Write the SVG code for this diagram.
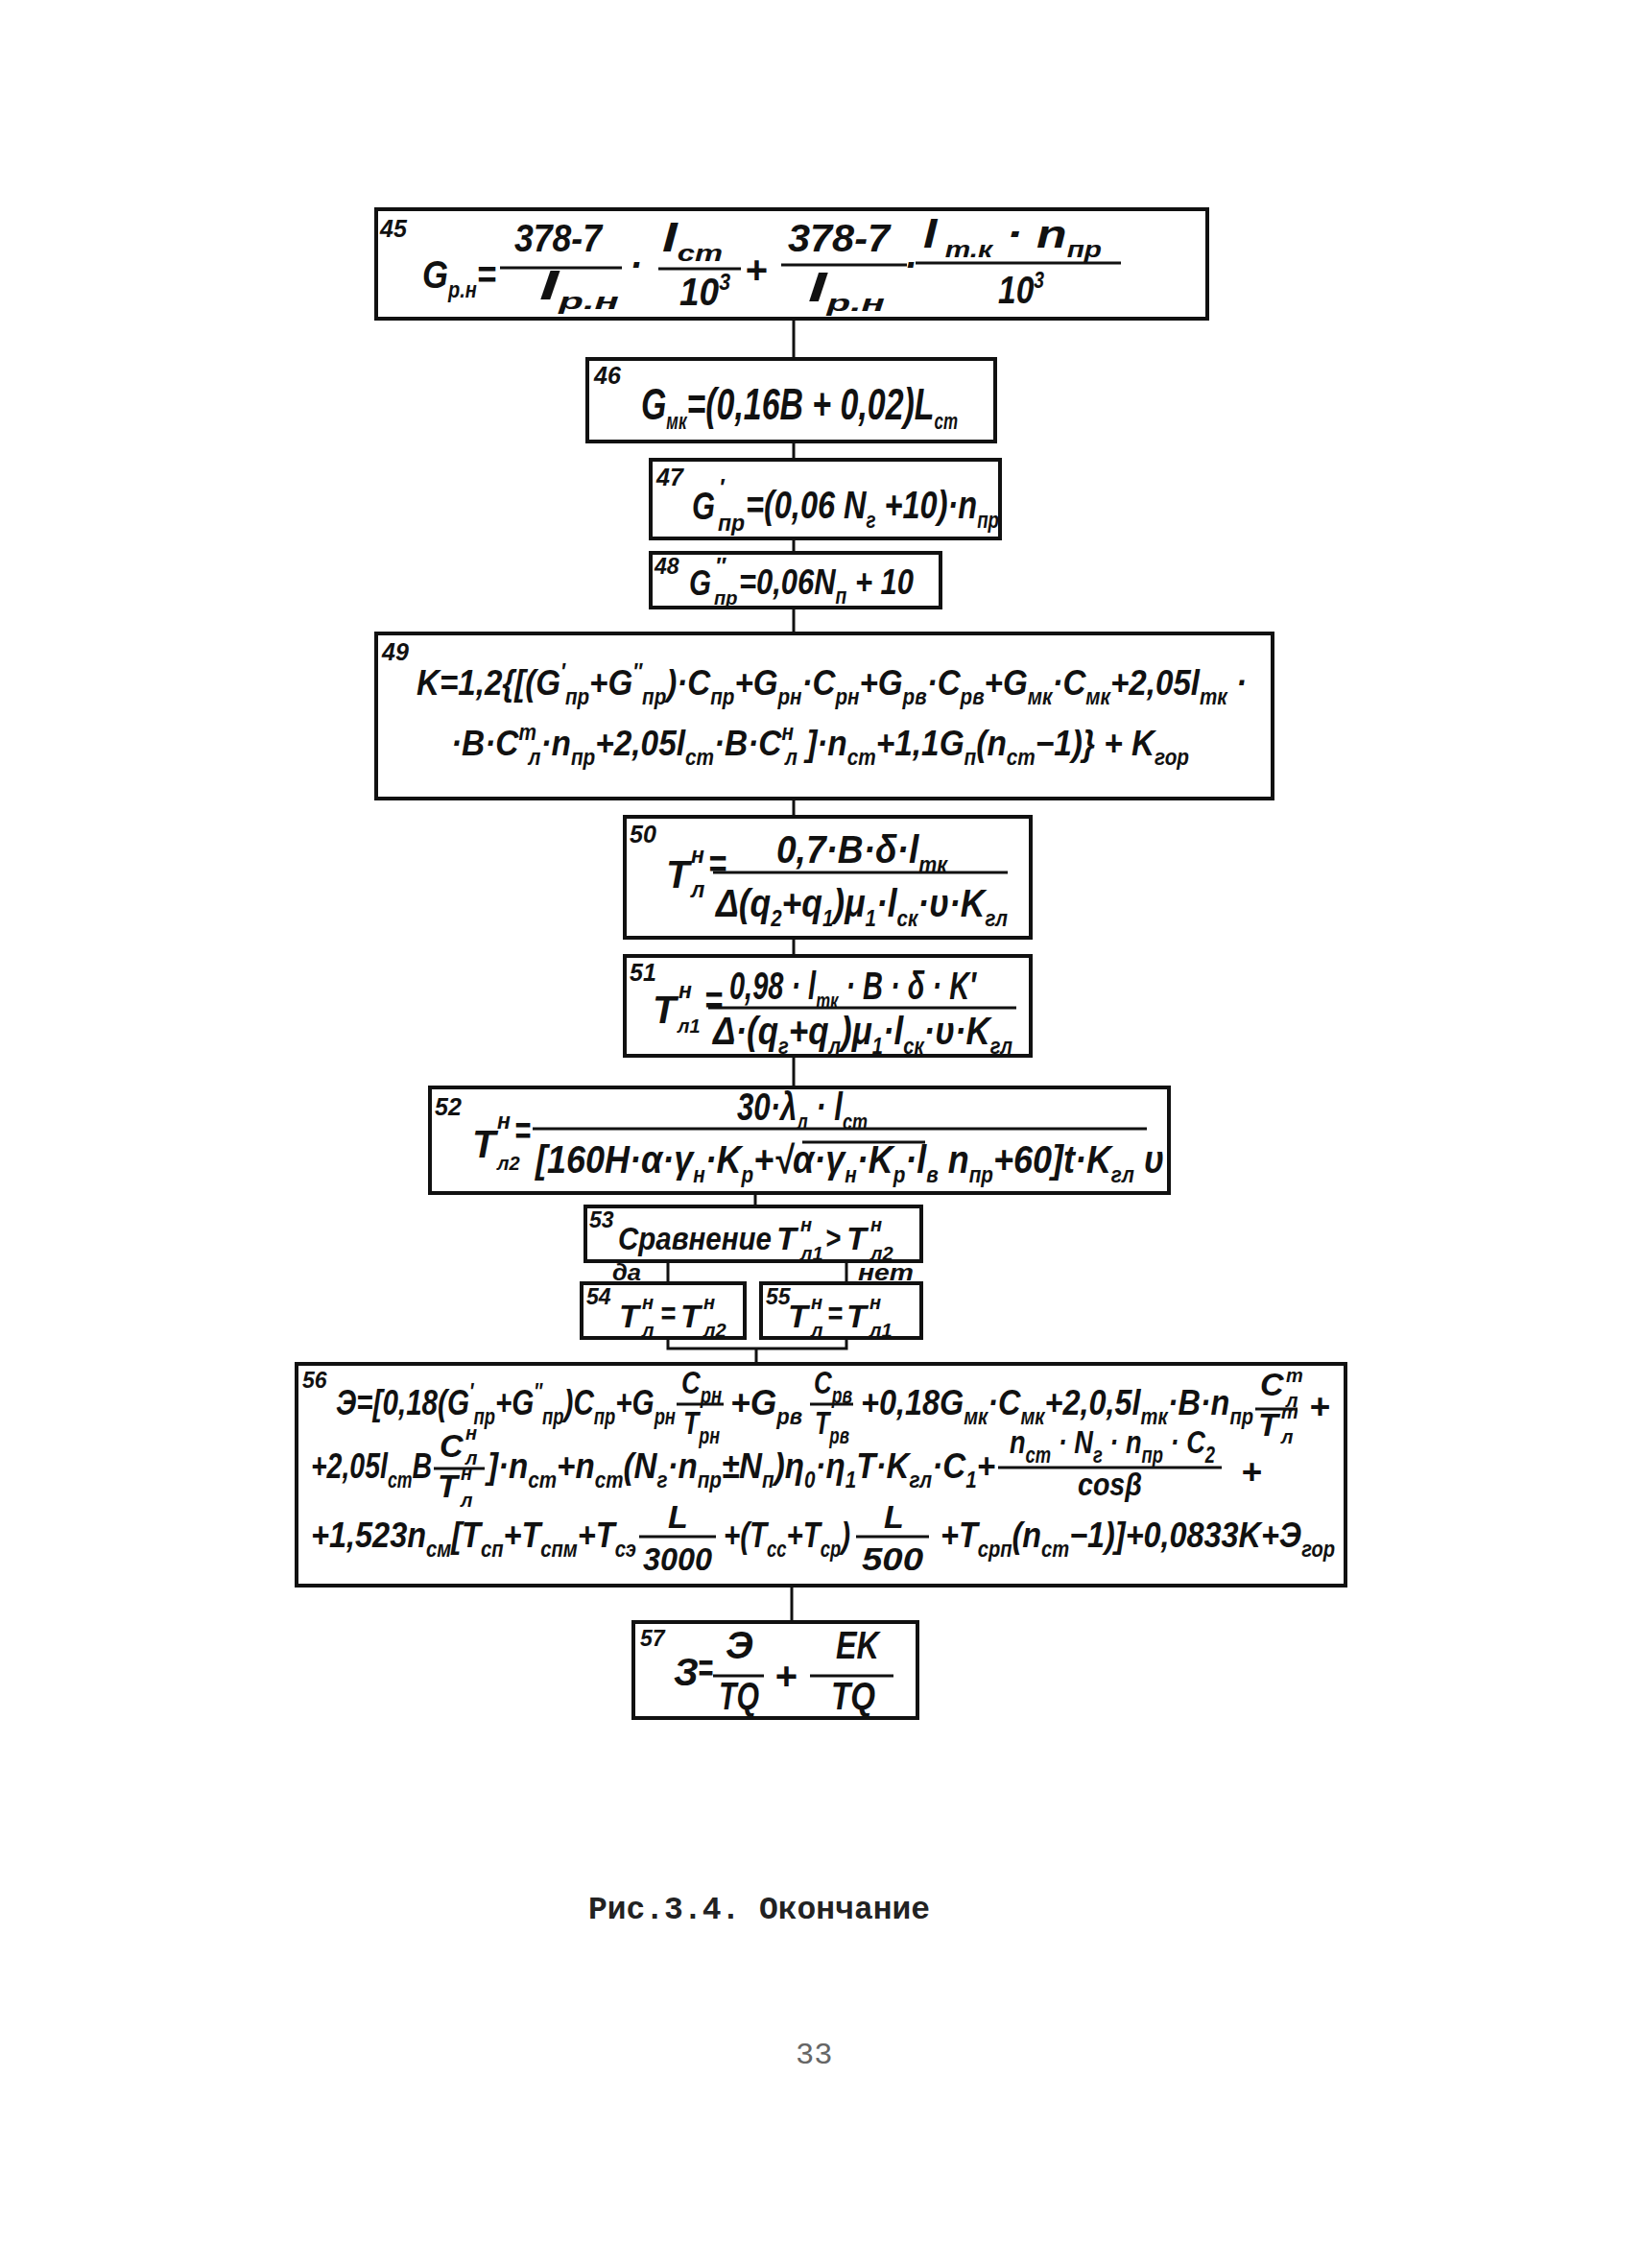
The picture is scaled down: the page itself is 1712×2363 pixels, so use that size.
<svg xmlns="http://www.w3.org/2000/svg" width="1712" height="2363" viewBox="0 0 1712 2363">
<style>
.bg{fill:#fff}
.box{fill:#fff;stroke:#111;stroke-width:4}
.c{fill:none;stroke:#111;stroke-width:3}
.bar{stroke:#111;stroke-width:3}
.t{font-family:"Liberation Sans","DejaVu Sans",Arial,sans-serif;font-style:italic;font-weight:bold;fill:#111}
.m{font-size:40px}
.m2{font-size:46px}
.k{font-size:37px}
.q{font-size:34px}
.l{font-size:25px}
.s{font-size:23px}
.s2{font-size:20px}
.sb{font-size:23px;baseline-shift:-10px}
.sp{font-size:23px;baseline-shift:16px}
.cap{font-family:"Liberation Mono","DejaVu Sans Mono",monospace;font-size:33px;font-weight:bold;fill:#222}
.pg{font-family:"Liberation Mono","DejaVu Sans Mono",monospace;font-size:32px;fill:#666}
</style>
<rect class="bg" x="0" y="0" width="1712" height="2363"/>

<g id="connectors">
<path class="c" d="M827 332V374M827 460V479M827 561V576M827 633V660M827 832V851M827 977V996M827 1100V1133M787 1243V1257M696 1314V1337M882 1314V1337M696 1394V1405H882V1394M788 1405V1421M825 1652V1690"/>
</g>

<g id="n45">
<rect class="box" x="392" y="218" width="866" height="114"/>
<text class="t l" x="396" y="247">45</text>
<text class="t m" x="440" y="300" textLength="77" lengthAdjust="spacingAndGlyphs">G<tspan class="sb">р.н</tspan>=</text>
<text class="t m" x="536" y="262" textLength="91" lengthAdjust="spacingAndGlyphs">378-7</text>
<line class="bar" x1="521" y1="279" x2="648" y2="279"/>
<text class="t m" x="562" y="312" textLength="83" lengthAdjust="spacingAndGlyphs">l<tspan class="sb">р.н</tspan></text>
<text class="t m" x="656" y="290">·</text>
<text class="t m" x="690" y="262" textLength="63" lengthAdjust="spacingAndGlyphs">l<tspan class="sb">ст</tspan></text>
<line class="bar" x1="686" y1="280" x2="772" y2="280"/>
<text class="t m" x="708" y="318" textLength="53" lengthAdjust="spacingAndGlyphs">10<tspan class="sp">3</tspan></text>
<text class="t m" x="776" y="295">+</text>
<text class="t m" x="821" y="262" textLength="106" lengthAdjust="spacingAndGlyphs">378-7</text>
<line class="bar" x1="814" y1="276" x2="945" y2="276"/>
<text class="t m" x="842" y="314" textLength="80" lengthAdjust="spacingAndGlyphs">l<tspan class="sb">р.н</tspan></text>
<text class="t m" x="942" y="290">·</text>
<text class="t m" x="962" y="258" textLength="186" lengthAdjust="spacingAndGlyphs">l<tspan class="sb"> т.к</tspan> · n<tspan class="sb">пр</tspan></text>
<line class="bar" x1="954" y1="274" x2="1168" y2="274"/>
<text class="t m" x="1040" y="316" textLength="48" lengthAdjust="spacingAndGlyphs">10<tspan class="sp">3</tspan></text>
</g>

<g id="n46">
<rect class="box" x="612" y="374" width="425" height="86"/>
<text class="t l" x="619" y="400">46</text>
<text class="t m2" x="668" y="437" textLength="330" lengthAdjust="spacingAndGlyphs">G<tspan class="sb">мк</tspan>=(0,16B + 0,02)L<tspan class="sb">ст</tspan></text>
</g>

<g id="n47">
<rect class="box" x="678" y="479" width="364" height="82"/>
<text class="t l" x="684" y="506">47</text>
<text class="t m" x="721" y="541" textLength="24" lengthAdjust="spacingAndGlyphs">G</text>
<text class="t s" x="749" y="516">′</text>
<text class="t s" x="748" y="553">пр</text>
<text class="t m" x="777" y="540" textLength="264" lengthAdjust="spacingAndGlyphs">=(0,06 N<tspan class="sb">г</tspan> +10)·n<tspan class="sb">пр</tspan></text>
</g>

<g id="n48">
<rect class="box" x="678" y="576" width="302" height="57"/>
<text class="t s" x="682" y="598">48</text>
<text class="t k" x="718" y="620" textLength="23" lengthAdjust="spacingAndGlyphs">G</text>
<text class="t s" x="745" y="598">″</text>
<text class="t s2" x="744" y="630">пр</text>
<text class="t k" x="770" y="619" textLength="182" lengthAdjust="spacingAndGlyphs">=0,06N<tspan class="sb">п</tspan> + 10</text>
</g>

<g id="n49">
<rect class="box" x="392" y="660" width="934" height="172"/>
<text class="t l" x="398" y="688">49</text>
<text class="t k" x="434" y="724" textLength="865" lengthAdjust="spacingAndGlyphs">K=1,2{[(G<tspan class="sp">′</tspan><tspan class="sb">пр</tspan>+G<tspan class="sp">″</tspan><tspan class="sb">пр</tspan>)·C<tspan class="sb">пр</tspan>+G<tspan class="sb">рн</tspan>·C<tspan class="sb">рн</tspan>+G<tspan class="sb">рв</tspan>·C<tspan class="sb">рв</tspan>+G<tspan class="sb">мк</tspan>·C<tspan class="sb">мк</tspan>+2,05l<tspan class="sb">тк</tspan> ·</text>
<text class="t k" x="470" y="787" textLength="769" lengthAdjust="spacingAndGlyphs">·B·C<tspan class="sp">т</tspan><tspan class="sb" dx="-9">л</tspan>·n<tspan class="sb">пр</tspan>+2,05l<tspan class="sb">ст</tspan>·B·C<tspan class="sp">н</tspan><tspan class="sb" dx="-10">л</tspan> ]·n<tspan class="sb">ст</tspan>+1,1G<tspan class="sb">п</tspan>(n<tspan class="sb">ст</tspan>−1)} + K<tspan class="sb">гор</tspan></text>
</g>

<g id="n50">
<rect class="box" x="651" y="851" width="423" height="126"/>
<text class="t l" x="656" y="878">50</text>
<text class="t m" x="694" y="925">T</text>
<text class="t s" x="720" y="899">н</text>
<text class="t s" x="720" y="935">л</text>
<text class="t m" x="738" y="914" textLength="19" lengthAdjust="spacingAndGlyphs">=</text>
<text class="t m" x="809" y="899" textLength="178" lengthAdjust="spacingAndGlyphs">0,7·B·δ·l<tspan class="sb">тк</tspan></text>
<line class="bar" x1="743" y1="909" x2="1050" y2="909"/>
<text class="t m" x="746" y="955" textLength="304" lengthAdjust="spacingAndGlyphs">Δ(q<tspan class="sb">2</tspan>+q<tspan class="sb">1</tspan>)μ<tspan class="sb">1</tspan>·l<tspan class="sb">ск</tspan>·υ·K<tspan class="sb">гл</tspan></text>
</g>

<g id="n51">
<rect class="box" x="651" y="996" width="423" height="104"/>
<text class="t l" x="656" y="1022">51</text>
<text class="t m" x="680" y="1066">T</text>
<text class="t s" x="707" y="1040">н</text>
<text class="t s2" x="706" y="1076">л1</text>
<text class="t m" x="734" y="1056" textLength="19" lengthAdjust="spacingAndGlyphs">=</text>
<text class="t m" x="760" y="1041" textLength="257" lengthAdjust="spacingAndGlyphs">0,98 · l<tspan class="sb">тк</tspan> · B · δ · K′</text>
<line class="bar" x1="738" y1="1050" x2="1059" y2="1050"/>
<text class="t m" x="743" y="1088" textLength="312" lengthAdjust="spacingAndGlyphs">Δ·(q<tspan class="sb">г</tspan>+q<tspan class="sb">л</tspan>)μ<tspan class="sb">1</tspan>·l<tspan class="sb">ск</tspan>·υ·K<tspan class="sb">гл</tspan></text>
</g>

<g id="n52">
<rect class="box" x="448" y="1133" width="770" height="110"/>
<text class="t l" x="453" y="1162">52</text>
<text class="t m" x="492" y="1206">T</text>
<text class="t s" x="518" y="1176">н</text>
<text class="t s2" x="518" y="1219">л2</text>
<text class="t m" x="536" y="1192" textLength="17" lengthAdjust="spacingAndGlyphs">=</text>
<text class="t m" x="768" y="1167" textLength="136" lengthAdjust="spacingAndGlyphs">30·λ<tspan class="sb">л</tspan> · l<tspan class="sb">ст</tspan></text>
<line class="bar" x1="555" y1="1176" x2="1195" y2="1176"/>
<text class="t m" x="558" y="1222" textLength="655" lengthAdjust="spacingAndGlyphs">[160H·α·γ<tspan class="sb">н</tspan>·K<tspan class="sb">р</tspan>+√α·γ<tspan class="sb">н</tspan>·K<tspan class="sb">р</tspan>·l<tspan class="sb">в</tspan> n<tspan class="sb">пр</tspan>+60]t·K<tspan class="sb">гл</tspan> υ</text>
<line class="bar" x1="836" y1="1190" x2="964" y2="1190"/>
</g>

<g id="n53">
<rect class="box" x="610" y="1257" width="350" height="57"/>
<text class="t s" x="614" y="1279">53</text>
<text class="t q" x="644" y="1302" textLength="160" lengthAdjust="spacingAndGlyphs">Сравнение</text>
<text class="t q" x="809" y="1302">T</text>
<text class="t s2" x="834" y="1283">н</text>
<text class="t s2" x="834" y="1313">л1</text>
<text class="t q" x="860" y="1301" textLength="16" lengthAdjust="spacingAndGlyphs">&gt;</text>
<text class="t q" x="882" y="1302">T</text>
<text class="t s2" x="907" y="1283">н</text>
<text class="t s2" x="907" y="1313">л2</text>
<text class="t s" x="638" y="1334" textLength="30" lengthAdjust="spacingAndGlyphs">да</text>
<text class="t s" x="894" y="1334" textLength="58" lengthAdjust="spacingAndGlyphs">нет</text>
</g>

<g id="n54">
<rect class="box" x="606" y="1337" width="170" height="57"/>
<text class="t s" x="611" y="1359">54</text>
<text class="t q" x="645" y="1383">T</text>
<text class="t s2" x="669" y="1364">н</text>
<text class="t s2" x="669" y="1393">л</text>
<text class="t q" x="688" y="1380" textLength="16" lengthAdjust="spacingAndGlyphs">=</text>
<text class="t q" x="709" y="1383">T</text>
<text class="t s2" x="733" y="1364">н</text>
<text class="t s2" x="733" y="1393">л2</text>
</g>

<g id="n55">
<rect class="box" x="793" y="1337" width="167" height="57"/>
<text class="t s" x="798" y="1359">55</text>
<text class="t q" x="821" y="1383">T</text>
<text class="t s2" x="845" y="1364">н</text>
<text class="t s2" x="845" y="1393">л</text>
<text class="t q" x="862" y="1380" textLength="16" lengthAdjust="spacingAndGlyphs">=</text>
<text class="t q" x="882" y="1383">T</text>
<text class="t s2" x="906" y="1364">н</text>
<text class="t s2" x="906" y="1393">л1</text>
</g>

<g id="n56">
<rect class="box" x="309" y="1421" width="1093" height="231"/>
<text class="t s" x="315" y="1446">56</text>
<text class="t k" x="350" y="1474" textLength="354" lengthAdjust="spacingAndGlyphs">Э=[0,18(G<tspan class="sp">′</tspan><tspan class="sb">пр</tspan>+G<tspan class="sp">″</tspan><tspan class="sb">пр</tspan>)C<tspan class="sb">пр</tspan>+G<tspan class="sb">рн</tspan></text>
<text class="t q" x="710" y="1452" textLength="42" lengthAdjust="spacingAndGlyphs">C<tspan class="sb">рн</tspan></text>
<line class="bar" x1="705" y1="1463" x2="754" y2="1463"/>
<text class="t q" x="712" y="1494" textLength="38" lengthAdjust="spacingAndGlyphs">T<tspan class="sb">рн</tspan></text>
<text class="t k" x="761" y="1474" textLength="75" lengthAdjust="spacingAndGlyphs">+G<tspan class="sb">рв</tspan></text>
<text class="t q" x="848" y="1452" textLength="40" lengthAdjust="spacingAndGlyphs">C<tspan class="sb">рв</tspan></text>
<line class="bar" x1="844" y1="1463" x2="889" y2="1463"/>
<text class="t q" x="849" y="1494" textLength="36" lengthAdjust="spacingAndGlyphs">T<tspan class="sb">рв</tspan></text>
<text class="t k" x="897" y="1474" textLength="409" lengthAdjust="spacingAndGlyphs">+0,18G<tspan class="sb">мк</tspan>·C<tspan class="sb">мк</tspan>+2,0,5l<tspan class="sb">тк</tspan>·B·n<tspan class="sb">пр</tspan></text>
<text class="t q" x="1313" y="1454">C</text>
<text class="t s2" x="1340" y="1440">т</text>
<text class="t s2" x="1340" y="1466">л</text>
<line class="bar" x1="1308" y1="1468" x2="1352" y2="1468"/>
<text class="t q" x="1311" y="1496">T</text>
<text class="t s2" x="1335" y="1478">т</text>
<text class="t s2" x="1335" y="1504">л</text>
<text class="t k" x="1364" y="1478">+</text>

<text class="t k" x="324" y="1540" textLength="126" lengthAdjust="spacingAndGlyphs">+2,05l<tspan class="sb">ст</tspan>B</text>
<text class="t q" x="458" y="1518">C</text>
<text class="t s2" x="485" y="1500">н</text>
<text class="t s2" x="485" y="1526">л</text>
<line class="bar" x1="452" y1="1530" x2="505" y2="1530"/>
<text class="t q" x="456" y="1560">T</text>
<text class="t s2" x="480" y="1542">н</text>
<text class="t s2" x="480" y="1570">л</text>
<text class="t k" x="508" y="1540" textLength="529" lengthAdjust="spacingAndGlyphs">]·n<tspan class="sb">ст</tspan>+n<tspan class="sb">ст</tspan>(N<tspan class="sb">г</tspan>·n<tspan class="sb">пр</tspan>±N<tspan class="sb">п</tspan>)η<tspan class="sb">0</tspan>·η<tspan class="sb">1</tspan>T·K<tspan class="sb">гл</tspan>·C<tspan class="sb">1</tspan>+</text>
<text class="t q" x="1052" y="1514" textLength="214" lengthAdjust="spacingAndGlyphs">n<tspan class="sb">ст</tspan> · N<tspan class="sb">г</tspan> · n<tspan class="sb">пр</tspan> · C<tspan class="sb">2</tspan></text>
<line class="bar" x1="1040" y1="1529" x2="1273" y2="1529"/>
<text class="t q" x="1123" y="1558" textLength="67" lengthAdjust="spacingAndGlyphs">cosβ</text>
<text class="t k" x="1293" y="1546">+</text>

<text class="t k" x="324" y="1612" textLength="339" lengthAdjust="spacingAndGlyphs">+1,523n<tspan class="sb">см</tspan>[T<tspan class="sb">сп</tspan>+T<tspan class="sb">спм</tspan>+T<tspan class="sb">сэ</tspan></text>
<text class="t q" x="696" y="1592">L</text>
<line class="bar" x1="666" y1="1601" x2="746" y2="1601"/>
<text class="t q" x="670" y="1636" textLength="72" lengthAdjust="spacingAndGlyphs">3000</text>
<text class="t k" x="754" y="1612" textLength="132" lengthAdjust="spacingAndGlyphs">+(T<tspan class="sb">сс</tspan>+T<tspan class="sb">ср</tspan>)</text>
<text class="t q" x="921" y="1592">L</text>
<line class="bar" x1="892" y1="1601" x2="968" y2="1601"/>
<text class="t q" x="898" y="1636" textLength="64" lengthAdjust="spacingAndGlyphs">500</text>
<text class="t k" x="980" y="1612" textLength="411" lengthAdjust="spacingAndGlyphs">+T<tspan class="sb">срп</tspan>(n<tspan class="sb">ст</tspan>−1)]+0,0833K+Э<tspan class="sb">гор</tspan></text>
</g>

<g id="n57">
<rect class="box" x="660" y="1690" width="296" height="100"/>
<text class="t s" x="667" y="1715">57</text>
<text class="t m" x="702" y="1756">З</text>
<text class="t m" x="727" y="1752" textLength="16" lengthAdjust="spacingAndGlyphs">=</text>
<text class="t m" x="756" y="1728">Э</text>
<line class="bar" x1="743" y1="1746" x2="796" y2="1746"/>
<text class="t m" x="749" y="1781" textLength="42" lengthAdjust="spacingAndGlyphs">TQ</text>
<text class="t m" x="807" y="1760">+</text>
<text class="t m" x="871" y="1728" textLength="45" lengthAdjust="spacingAndGlyphs">EK</text>
<line class="bar" x1="844" y1="1746" x2="931" y2="1746"/>
<text class="t m" x="866" y="1781" textLength="46" lengthAdjust="spacingAndGlyphs">TQ</text>
</g>

<text class="cap" x="613" y="1999" textLength="356" lengthAdjust="spacingAndGlyphs">Рис.3.4. Окончание</text>
<text class="pg" x="829" y="2150">33</text>
</svg>
